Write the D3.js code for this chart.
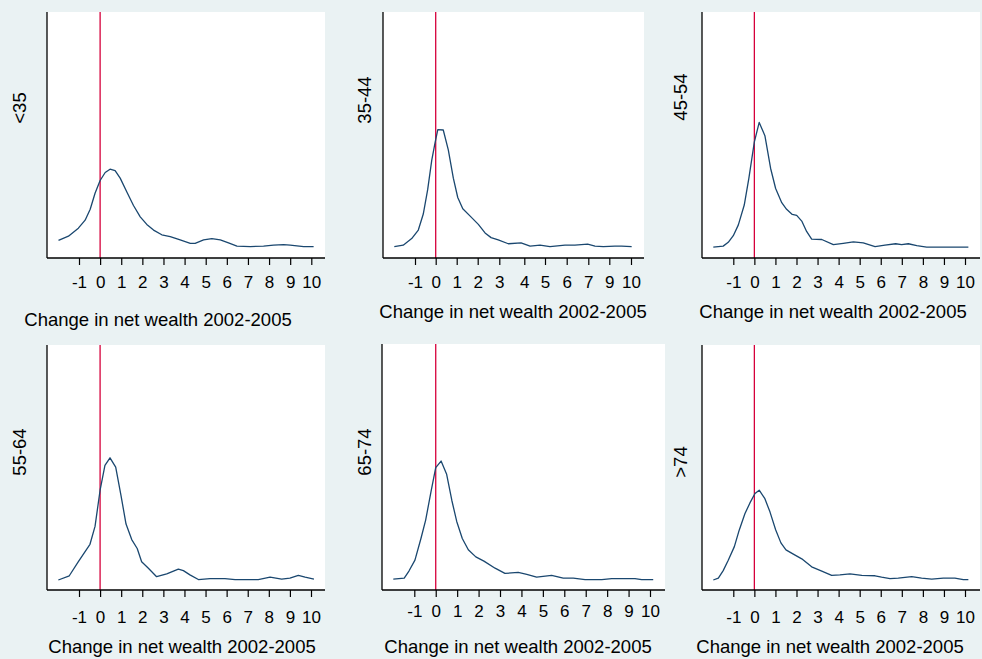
<!DOCTYPE html>
<html>
<head>
<meta charset="utf-8">
<script src="https://cdn.jsdelivr.net/npm/d3@7/dist/d3.min.js"></script>
<style>
  html, body { margin: 0; padding: 0; background: #eaf2f3; }
  svg { display: block; font-family: "Liberation Sans", Arial, sans-serif; }
</style>
</head>
<body>
<svg id="chart"></svg>
<script>
'use strict';

// age groups, one panel each
var ageGroups = ['<35', '35-44', '45-54', '55-64', '65-74', '>74'];

var xTitle = 'Change in net wealth 2002-2005';

// labelled ticks on each panel's x axis (35-44 has no "8" label)
var ticksFull = [-1, 0, 1, 2, 3, 4, 5, 6, 7, 8, 9, 10];
var ticks3544 = [-1, 0, 1, 2, 3, 4, 5, 6, 7, 9, 10];

// kernel density estimates, [change, density]
var densityLt35 = [
  [-1.97, 0.016], [-1.50, 0.025], [-1.03, 0.042], [-0.71, 0.059], [-0.47, 0.082],
  [-0.24, 0.116], [0.00, 0.143], [0.24, 0.160], [0.47, 0.167], [0.71, 0.164],
  [0.95, 0.148], [1.26, 0.119], [1.58, 0.090], [1.90, 0.066], [2.21, 0.050],
  [2.53, 0.038], [2.92, 0.028], [3.32, 0.024], [3.79, 0.017], [4.27, 0.010],
  [4.50, 0.010], [4.90, 0.017], [5.29, 0.020], [5.69, 0.017], [6.08, 0.011],
  [6.48, 0.004], [7.11, 0.003], [7.74, 0.004], [8.21, 0.006], [8.69, 0.007],
  [9.00, 0.006], [9.64, 0.003], [10.11, 0.003]
];

var density3544 = [
  [-2.00, 0.003], [-1.57, 0.006], [-1.16, 0.020], [-0.84, 0.038], [-0.60, 0.072],
  [-0.39, 0.123], [-0.19, 0.186], [-0.03, 0.223], [0.10, 0.251], [0.36, 0.250],
  [0.60, 0.208], [0.84, 0.148], [1.05, 0.107], [1.29, 0.083], [1.63, 0.068],
  [2.03, 0.050], [2.34, 0.032], [2.62, 0.022], [2.95, 0.017], [3.36, 0.009],
  [3.87, 0.011], [4.28, 0.004], [4.76, 0.006], [5.23, 0.003], [5.92, 0.006],
  [6.38, 0.006], [6.97, 0.008], [7.64, 0.004], [8.43, 0.003], [9.26, 0.004],
  [9.57, 0.004], [10.03, 0.003]
];

var density4554 = [
  [-1.95, 0.002], [-1.48, 0.004], [-1.24, 0.012], [-1.00, 0.026], [-0.76, 0.049],
  [-0.48, 0.091], [-0.26, 0.148], [0.00, 0.225], [0.23, 0.266], [0.50, 0.238],
  [0.77, 0.169], [1.01, 0.126], [1.30, 0.096], [1.53, 0.082], [1.80, 0.071],
  [2.01, 0.069], [2.25, 0.057], [2.48, 0.035], [2.72, 0.019], [3.20, 0.018],
  [3.75, 0.007], [4.22, 0.010], [4.70, 0.013], [5.17, 0.011], [5.73, 0.003],
  [6.20, 0.006], [6.71, 0.009], [6.99, 0.007], [7.31, 0.009], [7.71, 0.005],
  [8.18, 0.002], [9.05, 0.002], [10.16, 0.002]
];

var density5564 = [
  [-1.98, 0.000], [-1.46, 0.009], [-1.03, 0.039], [-0.48, 0.076], [-0.24, 0.114],
  [0.00, 0.191], [0.23, 0.244], [0.47, 0.260], [0.74, 0.240], [0.99, 0.180],
  [1.23, 0.119], [1.50, 0.086], [1.76, 0.067], [1.97, 0.039], [2.29, 0.025],
  [2.68, 0.007], [3.16, 0.013], [3.71, 0.023], [3.95, 0.020], [4.26, 0.011],
  [4.66, 0.001], [5.21, 0.003], [5.92, 0.003], [6.40, 0.001], [7.50, 0.001],
  [8.06, 0.006], [8.61, 0.002], [9.00, 0.004], [9.40, 0.010], [9.72, 0.006],
  [10.14, 0.002]
];

var density6574 = [
  [-1.98, 0.002], [-1.47, 0.004], [-1.25, 0.019], [-0.97, 0.042], [-0.69, 0.088],
  [-0.47, 0.127], [-0.22, 0.187], [0.00, 0.238], [0.25, 0.252], [0.51, 0.224],
  [0.75, 0.169], [0.98, 0.124], [1.24, 0.088], [1.52, 0.064], [1.87, 0.049],
  [2.25, 0.040], [2.77, 0.025], [3.23, 0.014], [3.85, 0.016], [4.25, 0.012],
  [4.71, 0.006], [5.41, 0.010], [5.95, 0.004], [6.42, 0.004], [6.97, 0.001],
  [7.75, 0.001], [8.21, 0.003], [9.30, 0.003], [9.61, 0.001], [10.15, 0.001]
];

var densityGt74 = [
  [-1.95, 0.000], [-1.71, 0.004], [-1.48, 0.020], [-1.24, 0.042], [-0.95, 0.071],
  [-0.72, 0.106], [-0.45, 0.141], [-0.21, 0.164], [0.03, 0.184], [0.23, 0.191],
  [0.50, 0.173], [0.74, 0.145], [1.01, 0.107], [1.26, 0.079], [1.50, 0.064],
  [1.85, 0.055], [2.25, 0.045], [2.72, 0.028], [3.20, 0.019], [3.67, 0.010],
  [4.06, 0.011], [4.54, 0.013], [5.10, 0.010], [5.73, 0.009], [6.04, 0.006],
  [6.44, 0.003], [6.83, 0.004], [7.47, 0.007], [7.94, 0.004], [8.42, 0.002],
  [8.97, 0.004], [9.52, 0.004], [9.92, 0.001], [10.16, 0.001]
];

var densities = [densityLt35, density3544, density4554, density5564, density6574, densityGt74];
var tickSets = [ticksFull, ticks3544, ticksFull, ticksFull, ticksFull, ticksFull];

// panel placement (pixels): plot box, pixel stops for the x scale, label spots.
// the 35-44 axis in the source is uneven, so its scale is piecewise on its ticks
var layout = [
  {left: 47, top: 12, right: 325, axisY: 258, xdom: [-1, 10], xpx: [79, 311.3], lab: [20, 108], title: [158, 320], pad: 11},
  {left: 383, top: 12, right: 644, axisY: 258, xdom: ticks3544,
    xpx: [415, 435.7, 456.7, 477.7, 499.3, 524.3, 545, 566.7, 588.3, 609.3, 631], lab: [365, 100], title: [513, 312], pad: 11},
  {left: 702, top: 12, right: 980, axisY: 258, xdom: [-1, 10], xpx: [733.3, 965], lab: [681, 97], title: [833, 312], pad: 11},
  {left: 47, top: 345, right: 325, axisY: 590, xdom: [-1, 10], xpx: [79, 311], lab: [20, 452], title: [182, 647], pad: 14},
  {left: 382, top: 344, right: 665, axisY: 590, xdom: [-1, 10], xpx: [414.3, 650], lab: [365, 452], title: [518, 647], pad: 8},
  {left: 702, top: 345, right: 980, axisY: 590, xdom: [-1, 10], xpx: [733.3, 965], lab: [681, 462], title: [830, 647], pad: 14}
];

var width = 982,
  height = 659,
  bgColor = '#eaf2f3',
  lineColor = '#1a476f',
  refColor = '#d6003b',
  fontFamily = '"Liberation Sans", Arial, sans-serif',
  yMax = 0.5;

var svg = d3.select('#chart').attr('width', width).attr('height', height);

svg.append('rect').attr('width', width).attr('height', height).attr('fill', bgColor);

function drawPanel(i) {
  var p = layout[i];
  var x = d3.scaleLinear().domain(p.xdom).range(p.xpx);
  var y = d3.scaleLinear().domain([0, yMax]).range([p.axisY - 10, p.top]);
  var g = svg.append('g');

  g.append('rect')
    .attr('x', p.left).attr('y', p.top)
    .attr('width', p.right - p.left).attr('height', p.axisY - p.top)
    .attr('fill', '#ffffff');

  // zero line
  g.append('line')
    .attr('x1', x(0)).attr('x2', x(0))
    .attr('y1', p.top).attr('y2', p.axisY)
    .attr('stroke', refColor).attr('stroke-width', 1.3);

  var line = d3.line()
    .x(function (d) { return x(d[0]); })
    .y(function (d) { return y(d[1]); });

  g.append('path').datum(densities[i])
    .attr('d', line)
    .attr('fill', 'none')
    .attr('stroke', lineColor)
    .attr('stroke-width', 1.3)
    .attr('stroke-linejoin', 'round');

  // axis lines
  g.append('line')
    .attr('x1', p.left).attr('x2', p.left)
    .attr('y1', p.top).attr('y2', p.axisY)
    .attr('stroke', '#000').attr('stroke-width', 1.3);
  g.append('line')
    .attr('x1', p.left).attr('x2', p.right)
    .attr('y1', p.axisY).attr('y2', p.axisY)
    .attr('stroke', '#000').attr('stroke-width', 1.3);

  var axis = g.append('g')
    .attr('transform', 'translate(0,' + p.axisY + ')')
    .call(d3.axisBottom(x)
      .tickValues(tickSets[i])
      .tickFormat(function (d) { return String(d); })
      .tickSize(7)
      .tickPadding(p.pad));
  axis.select('.domain').remove();
  axis.selectAll('.tick line').attr('stroke', '#000').attr('stroke-width', 1.2);
  axis.selectAll('.tick text')
    .attr('fill', '#000')
    .style('font-size', '17px')
    .style('font-family', fontFamily);

  g.append('text')
    .attr('transform', 'translate(' + p.lab[0] + ',' + p.lab[1] + ') rotate(-90)')
    .attr('text-anchor', 'middle')
    .attr('dy', '0.35em')
    .style('font-size', '18.5px')
    .text(ageGroups[i]);

  g.append('text')
    .attr('x', p.title[0]).attr('y', p.title[1])
    .attr('text-anchor', 'middle')
    .attr('dy', '0.35em')
    .style('font-size', '18.5px')
    .text(xTitle);
}

ageGroups.forEach(function (d, i) {
  drawPanel(i);
});
</script>
</body>
</html>
